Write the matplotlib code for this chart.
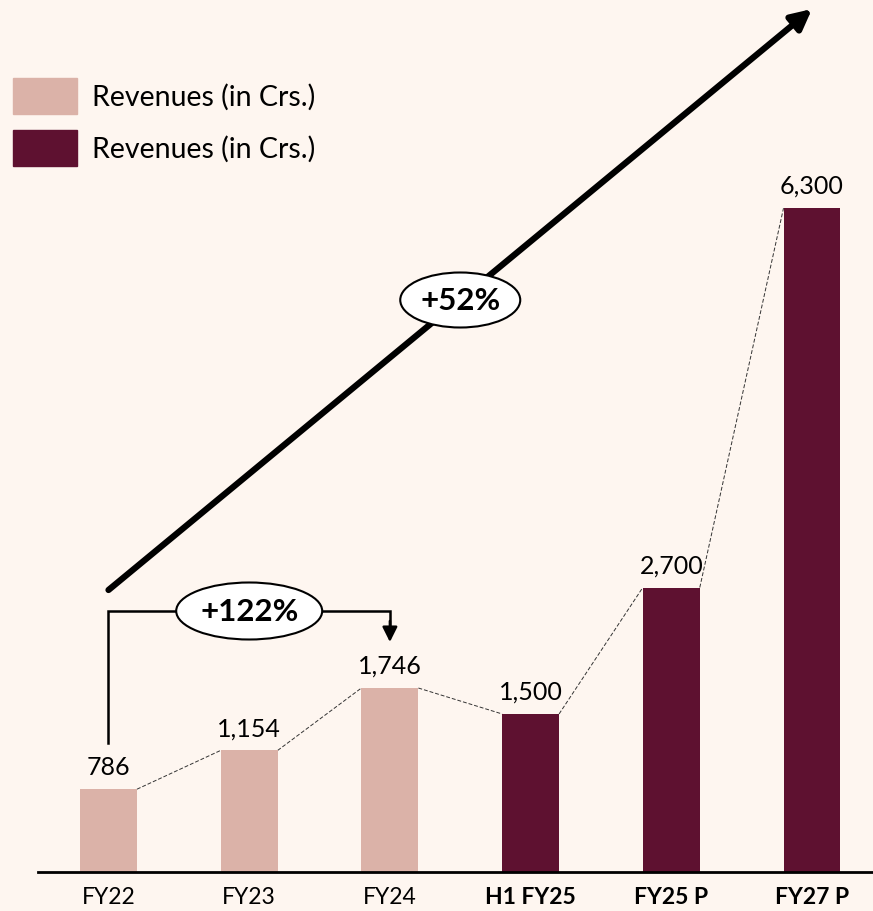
import matplotlib
matplotlib.use("Agg")
import matplotlib.pyplot as plt
from matplotlib.patches import Ellipse, Rectangle

# ---------------- data ----------------
categories = ["FY22", "FY23", "FY24", "H1 FY25", "FY25 P", "FY27 P"]
revenues = [786, 1154, 1746, 1500, 2700, 6300]
is_projection = [False, False, False, True, True, True]
legend_labels = ["Revenues (in Crs.)", "Revenues (in Crs.)"]
growth_short = "+122%"
growth_long = "+52%"

# ---------------- style ----------------
bg = "#FEF6F0"
light = "#DBB2A8"
dark = "#5E1130"
plt.rcParams["font.family"] = ["Lato", "DejaVu Sans"]

W, H = 873, 912
base_px = 873          # baseline pixel row
px_per_val = 0.10537   # pixels per crore
step_px = 140.7
x0_px = 108.5

fig = plt.figure(figsize=(W / 100, H / 100), dpi=100, facecolor=bg)
ax = fig.add_axes([0, (H - base_px) / H, 1, base_px / H])
ax.set_facecolor(bg)
ax.set_xlim(-x0_px / step_px, (W - x0_px) / step_px)
ax.set_ylim(0, base_px / px_per_val)
for s in ax.spines.values():
    s.set_visible(False)
ax.tick_params(left=False, labelleft=False, bottom=False)

x = list(range(len(categories)))
bw = 0.405
colors = [dark if p else light for p in is_projection]
ax.bar(x, revenues, width=bw, color=colors, zorder=2)

# baseline
ax.plot([(38 - x0_px) / step_px, ax.get_xlim()[1]], [0, 0], color="black", lw=2, zorder=3, clip_on=False)

# x tick labels (baseline-aligned so they sit just above the bottom edge)
ax.set_xticks(x)
ax.set_xticklabels(categories, fontsize=16.5)
for lbl, p in zip(ax.get_xticklabels(), is_projection):
    lbl.set_va("baseline")
    if p:
        lbl.set_fontweight("bold")
ax.tick_params(axis="x", pad=19)

# value labels
for xi, v in zip(x, revenues):
    ax.annotate(f"{v:,}", (xi, v), xytext=(0, 8), textcoords="offset points",
                ha="center", va="bottom", fontsize=18, zorder=4)

# dashed connectors between bar tops
for i in range(len(revenues) - 1):
    ax.plot([x[i] + bw / 2, x[i + 1] - bw / 2], [revenues[i], revenues[i + 1]],
            ls=(0, (4, 2)), color="#333333", lw=0.7, zorder=1)

def py(p):
    return (base_px - p) / px_per_val

def pw(p):
    return p / step_px

# big growth arrow FY22 -> FY27 P
ax.annotate("", xy=(x[-1], py(10)), xytext=(x[0], py(591)),
            arrowprops=dict(arrowstyle="-|>,head_length=1.2,head_width=0.6",
                            lw=4.5, color="black", shrinkA=0, shrinkB=0), zorder=5)
e1 = Ellipse((2.5, py(301)), pw(120), 55 / px_per_val, facecolor="white",
             edgecolor="black", lw=1.5, zorder=6)
ax.add_patch(e1)
ax.text(2.5, py(301), growth_long, ha="center", va="center", fontsize=22.5,
        fontweight="bold", zorder=7)

# bracket FY22 -> FY24
yb = py(612)
ax.plot([x[0], x[0], x[2], x[2]], [py(744), yb, yb, py(628)], color="black", lw=1.8,
        zorder=5, solid_joinstyle="miter")
ax.annotate("", xy=(x[2], py(643)), xytext=(x[2], py(622)),
            arrowprops=dict(arrowstyle="-|>,head_length=0.9,head_width=0.45",
                            lw=1.8, color="black", shrinkA=0, shrinkB=0), zorder=5)
e2 = Ellipse((1.0, yb), pw(146), 57 / px_per_val, facecolor="white",
             edgecolor="black", lw=1.5, zorder=6)
ax.add_patch(e2)
ax.text(1.0, yb, growth_short, ha="center", va="center", fontsize=22.5,
        fontweight="bold", zorder=7)

# legend drawn in figure pixels
for (top, col, lbl) in [(79, light, legend_labels[0]), (131, dark, legend_labels[1])]:
    fig.patches.append(Rectangle((13 / W, 1 - (top + 36) / H), 64 / W, 36 / H,
                                 transform=fig.transFigure, color=col))
    fig.text(92 / W, 1 - (top + 18) / H, lbl, ha="left", va="center", fontsize=20.5)

fig.savefig("out.png", dpi=100, facecolor=bg)
